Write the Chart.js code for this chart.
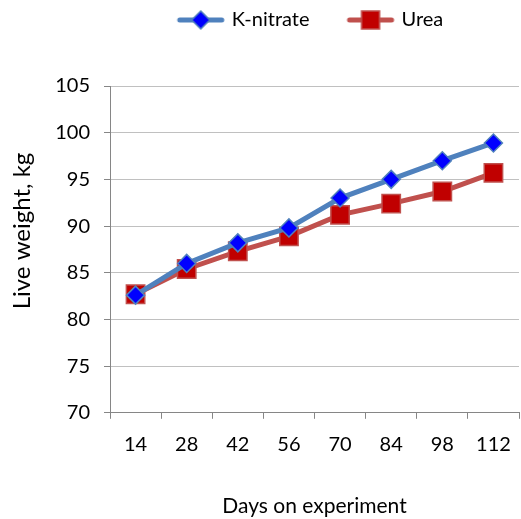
<!DOCTYPE html>
<html lang="en">
  <head>
    <meta charset="UTF-8" />
    <title>Live weight by days on experiment</title>
    <script src="https://cdn.jsdelivr.net/npm/chart.js"></script>
    <style>
      * {
        margin: 0;
        padding: 0;
        box-sizing: border-box;
      }
      body {
        background: #fff;
      }
      .container {
        width: 521px;
        height: 519px;
        position: relative;
      }
    </style>
  </head>
  <body>
    <div class="container">
      <canvas id="weightChart"></canvas>
    </div>

    <script>
      const days = ["14", "28", "42", "56", "70", "84", "98", "112"];
      const kNitrate = [82.6, 86.0, 88.2, 89.8, 93.0, 95.0, 97.0, 98.9];
      const urea = [82.7, 85.4, 87.3, 88.9, 91.2, 92.4, 93.7, 95.7];

      const FONT = "Lato, 'DejaVu Sans', sans-serif";
      const TOP_GAP = 46;

      // legend swatch: a short line with the series marker in the middle,
      // with some empty room on the left to space the items apart
      function legendIcon(lineColor, markerColor, style) {
        const c = document.createElement("canvas");
        c.width = 80;
        c.height = 22;
        const g = c.getContext("2d");
        g.strokeStyle = lineColor;
        g.lineWidth = 5;
        g.lineCap = "round";
        g.beginPath();
        g.moveTo(34, 11);
        g.lineTo(76, 11);
        g.stroke();
        g.fillStyle = markerColor;
        g.strokeStyle = lineColor;
        g.lineWidth = 1.5;
        g.beginPath();
        if (style === "diamond") {
          g.moveTo(55, 2);
          g.lineTo(64, 11);
          g.lineTo(55, 20);
          g.lineTo(46, 11);
          g.closePath();
        } else {
          g.rect(46, 2, 18, 18);
        }
        g.fill();
        g.stroke();
        return c;
      }

      const kIcon = legendIcon("#4F81BD", "#0000FF", "diamond");
      const uIcon = legendIcon("#C0504D", "#C00000", "square");

      // keep the legend at the very top and centred over the plot
      const legendShift = {
        id: "legendShift",
        beforeDraw(chart) {
          const l = chart.legend;
          l.left = 72;
          l.right = 521;
          l.top -= TOP_GAP;
          l.bottom -= TOP_GAP;
        },
        afterDraw(chart) {
          const l = chart.legend;
          l.top += TOP_GAP;
          l.bottom += TOP_GAP;
        },
      };

      const ctx = document.getElementById("weightChart").getContext("2d");
      new Chart(ctx, {
        type: "line",
        data: {
          labels: days,
          datasets: [
            {
              label: "K-nitrate",
              data: kNitrate,
              borderColor: "#4F81BD",
              borderWidth: 5,
              pointStyle: "rectRot",
              pointRadius: 9,
              pointBackgroundColor: "#0000FF",
              pointBorderColor: "#4F81BD",
              pointBorderWidth: 1.5,
              tension: 0,
            },
            {
              label: "Urea",
              data: urea,
              borderColor: "#C0504D",
              borderWidth: 5,
              pointStyle: "rect",
              pointRadius: 13,
              pointBackgroundColor: "#C00000",
              pointBorderColor: "#C0504D",
              pointBorderWidth: 1.5,
              tension: 0,
            },
          ],
        },
        plugins: [legendShift],
        options: {
          responsive: true,
          maintainAspectRatio: false,
          animation: false,
          layout: {
            autoPadding: false,
            padding: { top: TOP_GAP, right: 2, bottom: 0, left: 0 },
          },
          plugins: {
            tooltip: { enabled: false },
            legend: {
              position: "top",
              labels: {
                usePointStyle: true,
                pointStyleWidth: 72,
                padding: 10,
                color: "#000",
                font: { family: FONT, size: 20 },
                generateLabels(chart) {
                  return chart.data.datasets.map((ds, i) => ({
                    text: ds.label,
                    pointStyle: i === 0 ? kIcon : uIcon,
                    fillStyle: ds.pointBackgroundColor,
                    strokeStyle: ds.borderColor,
                    lineWidth: 0,
                    fontColor: "#000",
                    datasetIndex: i,
                  }));
                },
              },
            },
          },
          scales: {
            x: {
              offset: true,
              afterFit(scale) {
                scale.paddingLeft = 0;
                scale.paddingRight = 0;
              },
              grid: {
                offset: true,
                drawOnChartArea: false,
                drawTicks: true,
                tickLength: 6,
                color: "#868686",
              },
              border: { color: "#868686", width: 1 },
              ticks: {
                padding: 14,
                color: "#000",
                font: { family: FONT, size: 20 },
                maxRotation: 0,
              },
              title: {
                display: true,
                text: "Days on experiment",
                color: "#000",
                font: { family: FONT, size: 21 },
                padding: { top: 23, bottom: 0 },
              },
            },
            y: {
              min: 70,
              max: 105,
              afterFit(scale) {
                scale.width = 110;
              },
              grid: {
                color: "#C0C0C0",
                tickColor: "#868686",
                tickLength: 6,
              },
              border: { color: "#868686", width: 1 },
              ticks: {
                stepSize: 5,
                padding: 14,
                color: "#000",
                font: { family: FONT, size: 20 },
              },
              title: {
                display: true,
                text: "      Live weight, kg",
                color: "#000",
                font: { family: FONT, size: 24 },
                padding: { top: 8, bottom: 10 },
              },
            },
          },
        },
      });
    </script>
  </body>
</html>
